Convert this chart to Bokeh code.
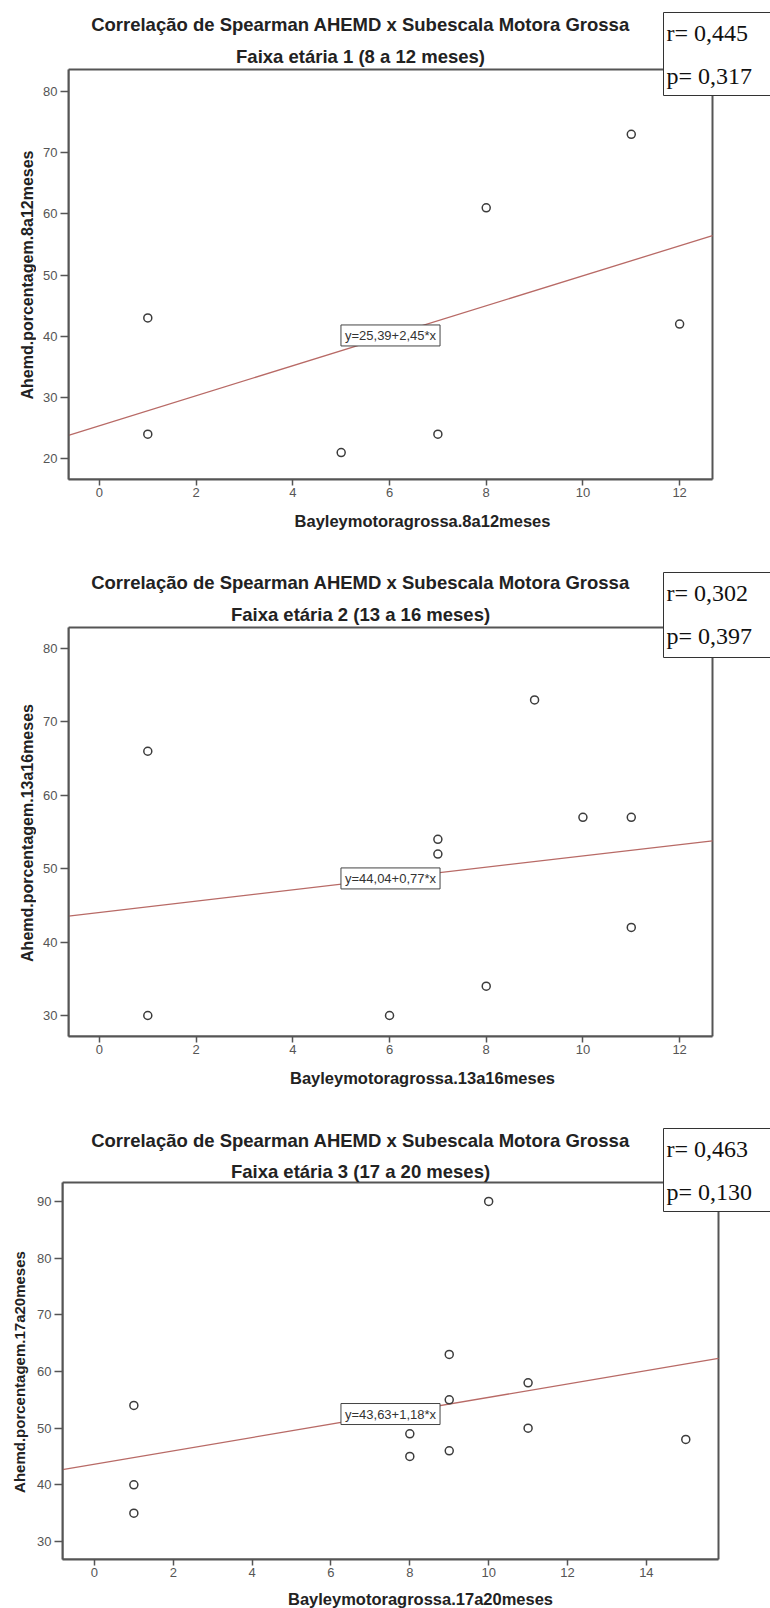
import math
from bokeh.plotting import figure
from bokeh.layouts import column, row
from bokeh.models import Range1d, Label, SingleIntervalTicker
from bokeh.embed import file_html
from bokeh.resources import INLINE

# ---------------- data ----------------
main_title = "Correlação de Spearman AHEMD x Subescala Motora Grossa"
subtitles = ["Faixa etária 1 (8 a 12 meses)",
             "Faixa etária 2 (13 a 16 meses)",
             "Faixa etária 3 (17 a 20 meses)"]
x_titles = ["Bayleymotoragrossa.8a12meses",
            "Bayleymotoragrossa.13a16meses",
            "Bayleymotoragrossa.17a20meses"]
y_titles = ["Ahemd.porcentagem.8a12meses",
            "Ahemd.porcentagem.13a16meses",
            "Ahemd.porcentagem.17a20meses"]

bayley_1 = [1, 1, 5, 7, 8, 11, 12]
ahemd_1 = [43, 24, 21, 24, 61, 73, 42]
bayley_2 = [1, 1, 6, 7, 7, 8, 9, 10, 11, 11]
ahemd_2 = [66, 30, 30, 54, 52, 34, 73, 57, 57, 42]
bayley_3 = [1, 1, 1, 8, 8, 9, 9, 9, 10, 11, 11, 15]
ahemd_3 = [54, 40, 35, 49, 45, 63, 55, 46, 90, 58, 50, 48]

intercepts = [25.39, 44.04, 43.63]
slopes = [2.45, 0.77, 1.18]
fit_labels = ["y=25,39+2,45*x", "y=44,04+0,77*x", "y=43,63+1,18*x"]
r_labels = ["r= 0,445", "r= 0,302", "r= 0,463"]
p_labels = ["p= 0,317", "p= 0,397", "p= 0,130"]

x_limits = [(-0.64, 12.68), (-0.64, 12.68), (-0.81, 15.83)]
y_limits = [(16.6, 83.6), (27.14, 82.86), (26.82, 93.35)]
x_tick_step = 2
y_tick_step = 10

xs_all = [bayley_1, bayley_2, bayley_3]
ys_all = [ahemd_1, ahemd_2, ahemd_3]

# ---------------- layout (pixels, measured from each panel's top-left) ----------------
W = 770
layouts = [
    dict(H=560, yw=36, fl=68, vr=712, vt=69, fb=479, hm=505,
         tc=23.5, sc=55.5, bt=12, bb=96, ry=32, py=75,
         xty=520, ytx=27, yty=274.5, ytf="16px"),
    dict(H=552, yw=36, fl=68, vr=712, vt=67, fb=476, hm=502,
         tc=21.5, sc=53.5, bt=12, bb=97, ry=32, py=75,
         xty=517, ytx=27, yty=272.5, ytf="16px"),
    dict(H=496, yw=32, fl=62, vr=718, vt=70, fb=447, hm=473,
         tc=27.5, sc=58.5, bt=16, bb=100, ry=36, py=79,
         xty=486, ytx=19, yty=259.5, ytf="15px"),
]

SANS = "Liberation Sans"
SERIF = "Liberation Serif"
FRAME = "#555555"
BOX_FONT = 24
BOX_TEXT_H = 26.5


def text_fig(w, h):
    f = figure(width=w, height=h, output_backend="svg", toolbar_location=None,
               x_axis_type=None, y_axis_type=None,
               x_range=Range1d(0, 1), y_range=Range1d(0, 1),
               min_border_left=0, min_border_right=0,
               min_border_top=0, min_border_bottom=0)
    f.outline_line_color = None
    f.background_fill_color = "white"
    f.border_fill_color = "white"
    return f


panels = []
for i in range(3):
    lay = layouts[i]
    H, YW, FL, VR, VT, FB, HM = (lay["H"], lay["yw"], lay["fl"], lay["vr"],
                                 lay["vt"], lay["fb"], lay["hm"])
    MW = W - YW
    L = FL - YW
    B = HM - FB
    vis_w = VR - FL
    vis_h = FB - VT
    x0, x1 = x_limits[i]
    y0, y1 = y_limits[i]
    # extend the ranges so that the frame also covers the title / r-p box area
    x_end = x1 + (W - VR) * (x1 - x0) / vis_w
    y_end = y1 + VT * (y1 - y0) / vis_h

    def sx(fx, FL=FL):
        return fx - FL

    def sy(fy, FB=FB):
        return FB - fy

    p = figure(width=MW, height=HM, output_backend="svg", toolbar_location=None,
               x_range=Range1d(x0, x_end), y_range=Range1d(y0, y_end),
               min_border_left=L, min_border_right=0,
               min_border_top=0, min_border_bottom=B)
    p.background_fill_color = "white"
    p.border_fill_color = "white"
    p.outline_line_color = None
    p.xgrid.visible = False
    p.ygrid.visible = False

    p.xaxis.ticker = SingleIntervalTicker(interval=x_tick_step)
    p.yaxis.ticker = SingleIntervalTicker(interval=y_tick_step)
    p.xaxis.bounds = (x0, x1)
    p.yaxis.bounds = (y0, y1)
    for ax in (p.xaxis[0], p.yaxis[0]):
        ax.axis_line_color = FRAME
        ax.axis_line_width = 2
        ax.minor_tick_line_color = None
        ax.major_tick_line_color = FRAME
        ax.major_tick_line_width = 1.5
        ax.major_tick_in = 0
        ax.major_label_text_font = SANS
        ax.major_label_text_font_size = "13px"
        ax.major_label_text_color = "#555555"
    p.xaxis.major_tick_out = 6
    p.yaxis.major_tick_out = 8
    p.xaxis.major_label_standoff = 2
    p.yaxis.major_label_standoff = 3

    # visible plot box
    p.quad(left=[x0], right=[x1], bottom=[y0], top=[y1],
           fill_color=None, line_color=FRAME, line_width=2)

    # regression line across the plot box
    a, b = intercepts[i], slopes[i]
    p.line([x0, x1], [a + b * x0, a + b * x1], line_color="#b86a66", line_width=1.3)

    # points
    p.scatter(xs_all[i], ys_all[i], marker="circle", size=8,
              fill_color=None, line_color="#3c3c3c", line_width=1.5)

    # equation label at the middle of the x-range, on the line
    xm = (x0 + x1) / 2.0
    p.add_layout(Label(x=xm, y=a + b * xm, text=fit_labels[i],
                       text_align="center", text_baseline="middle",
                       text_font=SANS, text_font_size="13px", text_color="#333333",
                       background_fill_color="white", border_line_color="#444444",
                       border_line_width=1,
                       padding=dict(left=4, right=4, top=3, bottom=3)))

    # titles
    p.add_layout(Label(x=sx(360), y=sy(lay["tc"]), x_units="screen", y_units="screen",
                       text=main_title, text_align="center", text_baseline="middle",
                       text_font=SANS, text_font_style="bold", text_font_size="18.5px",
                       text_color="#222222"))
    p.add_layout(Label(x=sx(360), y=sy(lay["sc"]), x_units="screen", y_units="screen",
                       text=subtitles[i], text_align="center", text_baseline="middle",
                       text_font=SANS, text_font_style="bold", text_font_size="18.5px",
                       text_color="#222222"))

    # r / p box (anchor = top-left corner of the padded box)
    pt = int(round(lay["ry"] - lay["bt"] - BOX_TEXT_H / 2))
    pb = int(round(lay["bb"] - lay["bt"] - pt - BOX_TEXT_H))
    p.add_layout(Label(x=sx(663), y=sy(lay["bt"]), x_units="screen", y_units="screen",
                       text=r_labels[i], text_align="left", text_baseline="top",
                       text_font=SERIF, text_font_size=f"{BOX_FONT}px", text_color="#111111",
                       background_fill_color="white", border_line_color="#333333",
                       border_line_width=1,
                       padding=dict(left=3, right=40, top=pt, bottom=pb)))
    p.add_layout(Label(x=sx(666), y=sy(lay["py"]), x_units="screen", y_units="screen",
                       text=p_labels[i], text_align="left", text_baseline="middle",
                       text_font=SERIF, text_font_size=f"{BOX_FONT}px", text_color="#111111"))

    # x-axis title strip under the plot
    tx = text_fig(MW, H - HM)
    tx.add_layout(Label(x=(FL + VR) / 2.0 - YW, y=H - lay["xty"], x_units="screen",
                        y_units="screen", text=x_titles[i], text_align="center",
                        text_baseline="middle", text_font=SANS, text_font_style="bold",
                        text_font_size="16.5px", text_color="#222222"))

    # y-axis title strip left of the plot
    ty = text_fig(YW, H)
    ty.add_layout(Label(x=lay["ytx"], y=H - lay["yty"], x_units="screen", y_units="screen",
                        text=y_titles[i], text_align="center", text_baseline="middle",
                        angle=math.pi / 2, text_font=SANS, text_font_style="bold",
                        text_font_size=lay["ytf"], text_color="#222222"))

    panels.append(row(ty, column(p, tx, spacing=0), spacing=0))

layout = column(*panels, spacing=0)
open("out.html", "w").write(file_html(layout, INLINE))
